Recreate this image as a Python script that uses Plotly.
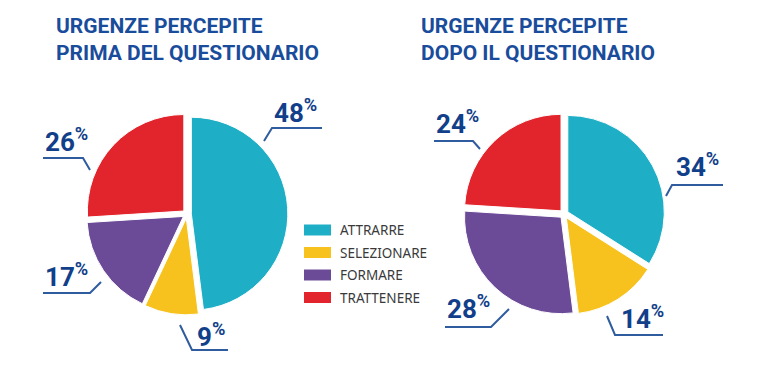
import plotly.graph_objects as go

W, H = 767, 365
OFF = 8  # default page margin of the html body
FW, FH = W - 2 * OFF, H - 2 * OFF

categories = ["ATTRARRE", "SELEZIONARE", "FORMARE", "TRATTENERE"]
before_values = [48, 9, 17, 26]
after_values = [34, 14, 28, 24]
titles = ["URGENZE PERCEPITE<br>PRIMA DEL QUESTIONARIO",
          "URGENZE PERCEPITE<br>DOPO IL QUESTIONARIO"]

colors = ["#1eafc6", "#f7c21d", "#6b4a97", "#e2252c"]
LABEL_BLUE = "#123f8a"
TITLE_BLUE = "#1a4c9c"
LINE_BLUE = "#2f5c9f"


def px(x):
    return (x - OFF) / FW


def py(y):
    return 1 - (y - OFF) / FH


PULL = 0.045


def pie_domain(cx, cy, r):
    half = r * (1 + PULL)
    return dict(x=[px(cx - half), px(cx + half)],
                y=[py(cy + half), py(cy - half)])


fig = go.Figure()
for vals, (cx, cy) in [(before_values, (187, 214)), (after_values, (564, 214))]:
    fig.add_trace(go.Pie(
        labels=categories, values=vals, sort=False, direction="clockwise",
        rotation=0, marker=dict(colors=colors, line=dict(color="white", width=1)),
        pull=[PULL] * 4, textinfo="none", hoverinfo="label+percent",
        domain=pie_domain(cx, cy, 96.5), showlegend=False,
    ))

# label layout: (text_left_x, text_mid_y, path points)
label_layout_before = [
    (272, 111, [(264, 141), (272, 128), (322, 128)]),
    (195, 335, [(180, 325), (192, 350), (228, 350)]),
    (43, 275, [(43, 293), (90, 293), (101, 282)]),
    (43, 140, [(43, 158), (83, 158), (90, 170)]),
]
label_layout_after = [
    (674, 165, [(666, 196), (672, 185), (723, 185)]),
    (619, 317, [(607, 316), (615, 335), (663, 335)]),
    (445, 307, [(445, 327), (491, 327), (509, 309)]),
    (434, 122, [(434, 141), (473, 141), (480, 149)]),
]

annotations = []
shapes = []
for vals, lay in [(before_values, label_layout_before), (after_values, label_layout_after)]:
    for v, (tx, ty, pts) in zip(vals, lay):
        annotations.append(dict(
            x=px(tx), y=py(ty), xref="paper", yref="paper",
            xanchor="left", yanchor="middle", showarrow=False,
            text=f"<b>{v}<sup>%</sup></b>",
            font=dict(family="Roboto", size=26, color=LABEL_BLUE),
        ))
        path = "M " + " L ".join(f"{px(x)},{py(y)}" for x, y in pts)
        shapes.append(dict(type="path", path=path, xref="paper", yref="paper",
                           line=dict(color=LINE_BLUE, width=2)))

for t, x in zip(titles, [54, 419]):
    annotations.append(dict(
        x=px(x), y=py(12), xref="paper", yref="paper", xanchor="left",
        yanchor="top", align="left", showarrow=False, text=f"<b>{t}</b>",
        font=dict(family="Roboto", size=21, color=TITLE_BLUE),
    ))

# custom legend
for i, (c, name) in enumerate(zip(colors, categories)):
    yc = 230 + i * 22.5
    shapes.append(dict(type="rect", xref="paper", yref="paper",
                       x0=px(304), x1=px(331), y0=py(yc + 5.5), y1=py(yc - 5.5),
                       fillcolor=c, line=dict(width=0)))
    annotations.append(dict(
        x=px(338), y=py(yc), xref="paper", yref="paper", xanchor="left",
        yanchor="middle", showarrow=False, text=name,
        font=dict(family="Noto Sans", size=13.5, color="#3a3a3a"),
    ))

fig.update_layout(
    width=FW, height=FH, margin=dict(l=0, r=0, t=0, b=0),
    paper_bgcolor="white", plot_bgcolor="white",
    annotations=annotations, shapes=shapes,
)

fig.write_html("out.html")
